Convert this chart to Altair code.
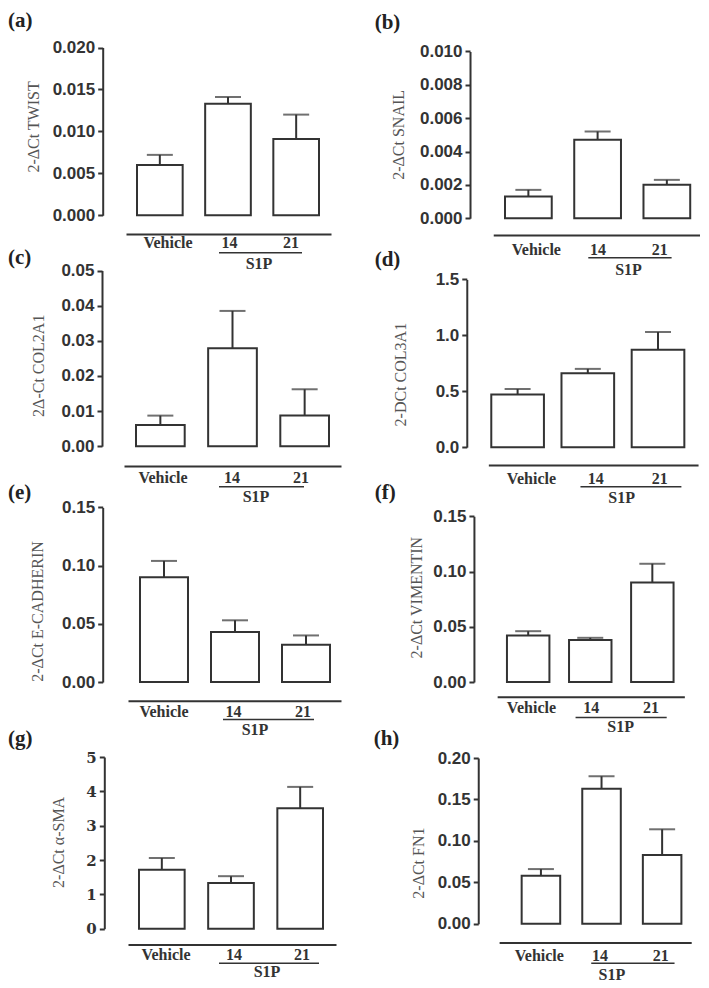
import altair as alt
import pandas as pd

# ---------------- data ----------------
groups = ["Vehicle", "14", "21"]

twist_mean = [0.0060, 0.0133, 0.0091]
twist_upper = [0.0072, 0.0141, 0.0120]
snail_mean = [0.0013, 0.0047, 0.0020]
snail_upper = [0.0017, 0.0052, 0.0023]
col2a1_mean = [0.0060, 0.0279, 0.0087]
col2a1_upper = [0.0087, 0.0385, 0.0162]
col3a1_mean = [0.47, 0.66, 0.87]
col3a1_upper = [0.52, 0.70, 1.03]
ecad_mean = [0.090, 0.043, 0.032]
ecad_upper = [0.104, 0.053, 0.040]
vim_mean = [0.042, 0.038, 0.090]
vim_upper = [0.046, 0.040, 0.107]
sma_mean = [1.72, 1.33, 3.51]
sma_upper = [2.06, 1.53, 4.13]
fn1_mean = [0.058, 0.163, 0.083]
fn1_upper = [0.066, 0.178, 0.114]

twist_ticks = [0, 0.005, 0.010, 0.015, 0.020]
snail_ticks = [0, 0.002, 0.004, 0.006, 0.008, 0.010]
col2a1_ticks = [0, 0.01, 0.02, 0.03, 0.04, 0.05]
col3a1_ticks = [0, 0.5, 1.0, 1.5]
ecad_ticks = [0, 0.05, 0.10, 0.15]
vim_ticks = [0, 0.05, 0.10, 0.15]
sma_ticks = [0, 1, 2, 3, 4, 5]
fn1_ticks = [0, 0.05, 0.10, 0.15, 0.20]

titles = ["2-ΔCt TWIST", "2-ΔCt SNAIL", "2Δ-Ct COL2A1", "2-DCt COL3A1",
          "2-ΔCt E-CADHERIN", "2-ΔCt VIMENTIN", "2-ΔCt  α-SMA", "2-ΔCt FN1"]
letters = ["(a)", "(b)", "(c)", "(d)", "(e)", "(f)", "(g)", "(h)"]
group_label = "S1P"

# ---------------- layout / style ----------------
INK = "#333333"
CELL_W, CELL_H = 346, 243
KY = 0.9868


def gx(rx, col):
    return rx - 2 if col == 0 else (rx - 354) * 0.98 + 4


def gy(ry, row):
    return (ry - 3) * KY - CELL_H * row


layout = [
    dict(col=0, row=0, axis_x=96.7, ytop=40, ybot=210, bars=(131, 313), pi=0.33, base_y=229,
         base_x=(120, 325), lab_y=238, lab_x=(162, 224, 285), ul_y=248, ul_x=(213, 296),
         s1p=(253, 259), letter=(2, 13), title=(27, 120), fmt=".3f"),
    dict(col=1, row=0, axis_x=468.3, ytop=44, ybot=213, bars=(504, 693), pi=0.325, base_y=230,
         base_x=(492, 704), lab_y=245, lab_x=(536, 601, 662), ul_y=253, ul_x=(589, 674),
         s1p=(630, 265), letter=(371, 15), title=(395, 128), fmt=".3f"),
    dict(col=0, row=1, axis_x=96, ytop=266, ybot=444, bars=(130, 323), pi=0.325, base_y=464,
         base_x=(118, 335), lab_y=476, lab_x=(157, 223, 295), ul_y=485, ul_x=(213, 298),
         s1p=(250, 496), letter=(2, 253), title=(32, 362), fmt=".2f"),
    dict(col=1, row=1, axis_x=465, ytop=275, ybot=445, bars=(490, 687), pi=0.25, base_y=463,
         base_x=(487, 701), lab_y=477, lab_x=(531, 600, 662), ul_y=485, ul_x=(581, 684),
         s1p=(623, 497), letter=(371, 255), title=(397, 371), fmt=".1f"),
    dict(col=0, row=2, axis_x=96.7, ytop=506, ybot=683, bars=(134, 324), pi=0.324, base_y=702,
         base_x=(122, 335), lab_y=713, lab_x=(158, 222, 297), ul_y=721, ul_x=(217, 308),
         s1p=(249, 732), letter=(2, 491), title=(31, 611), fmt=".2f"),
    dict(col=1, row=2, axis_x=472.3, ytop=515, ybot=683, bars=(506, 676), pi=0.316, base_y=698,
         base_x=(496, 687), lab_y=709, lab_x=(531, 592, 653), ul_y=719, ul_x=(576, 669),
         s1p=(622, 729), letter=(371, 491), title=(414, 597), fmt=".2f"),
    dict(col=0, row=3, axis_x=98.3, ytop=759, ybot=933, bars=(133, 317), pi=0.34, base_y=949,
         base_x=(122, 330), lab_y=959, lab_x=(160, 228, 296), ul_y=968, ul_x=(213, 313),
         s1p=(261, 977), letter=(2, 741), title=(52, 845), fmt="d"),
    dict(col=1, row=3, axis_x=476.7, ytop=760, ybot=928, bars=(521, 684), pi=0.364, base_y=947,
         base_x=(498, 694), lab_y=960, lab_x=(539, 604, 663), ul_y=968, ul_x=(592, 677),
         s1p=(613, 980), letter=(370, 741), title=(416, 866), fmt=".2f"),
]

series = [
    (twist_mean, twist_upper, twist_ticks),
    (snail_mean, snail_upper, snail_ticks),
    (col2a1_mean, col2a1_upper, col2a1_ticks),
    (col3a1_mean, col3a1_upper, col3a1_ticks),
    (ecad_mean, ecad_upper, ecad_ticks),
    (vim_mean, vim_upper, vim_ticks),
    (sma_mean, sma_upper, sma_ticks),
    (fn1_mean, fn1_upper, fn1_ticks),
]


def make_panel(i):
    mean, upper, ticks = series[i]
    L = layout[i]
    col, row = L["col"], L["row"]
    df = pd.DataFrame({"group": groups, "mean": mean, "upper": upper})
    one = pd.DataFrame({"k": [0]})

    ax = gx(L["axis_x"], col)
    sans_lab = i != 6
    yscale = alt.Scale(domain=[ticks[0], ticks[-1]],
                       range=[gy(L["ybot"], row), gy(L["ytop"], row)],
                       nice=False, zero=True)
    yaxis = alt.Axis(values=ticks, format=L["fmt"], title=titles[i], grid=False,
                     offset=-ax, domainColor=INK, domainWidth=2, tickColor=INK,
                     tickWidth=2, tickSize=5, labelPadding=3,
                     labelFont="Liberation Sans" if sans_lab else "DejaVu Serif",
                     labelFontSize=17 if sans_lab else 15, labelFontWeight="bold",
                     labelColor=INK, labelOverlap=False,
                     titleFont="Liberation Serif", titleFontSize=16,
                     titleFontWeight="normal", titleColor="#555555", titleAngle=270,
                     titleAlign="center", titleBaseline="middle",
                     titleX=gx(L["title"][0], col) - ax, titleY=gy(L["title"][1], row))

    def yenc(field):
        return alt.Y(f"{field}:Q", scale=yscale, axis=yaxis)

    bl, br = gx(L["bars"][0], col), gx(L["bars"][1], col)
    xA = alt.X("group:N", scale=alt.Scale(type="band", domain=groups, range=[bl, br],
                                          paddingInner=L["pi"], paddingOuter=0),
               axis=None)

    bars = alt.Chart(df).mark_bar(fill="white", stroke=INK, strokeWidth=2).encode(
        x=xA, y=yenc("mean"))
    err = alt.Chart(df).mark_rule(color=INK, strokeWidth=2).encode(
        x=xA, y=yenc("mean"), y2=alt.Y2("upper"))
    cap = alt.Chart(df).mark_tick(color=INK, thickness=2, size=26).encode(
        x=xA, y=yenc("upper"))

    # category axis (its domain line is the long baseline)
    Lx, Rx = gx(L["base_x"][0], col), gx(L["base_x"][1], col)
    c = [gx(v, col) for v in L["lab_x"]]
    step = (c[2] - c[0]) / 2
    leftover = max(0.0, (Rx - Lx) - 3 * step)
    lead = c[0] - step / 2 - Lx
    po = leftover / (2 * step) if step > 0 else 0
    al = min(1.0, max(0.0, lead / leftover)) if leftover > 0 else 0.5
    xB = alt.X("group:N",
               scale=alt.Scale(type="band", domain=groups, range=[Lx, Rx], paddingInner=0,
                               paddingOuter=po, align=al),
               axis=alt.Axis(orient="bottom", offset=gy(L["base_y"], row) - CELL_H,
                             domainColor=INK, domainWidth=2, ticks=False, tickSize=0,
                             labelPadding=gy(L["lab_y"], row) - gy(L["base_y"], row),
                             labelBaseline="middle", labelFont="Liberation Serif",
                             labelFontSize=16, labelFontWeight="bold", labelColor=INK,
                             labelAngle=0, title=None, grid=False))
    cat_axis = alt.Chart(df).mark_point(opacity=0).encode(x=xB, y=alt.value(0))

    underline = alt.Chart(one).mark_rule(color=INK, strokeWidth=1.5).encode(
        x=alt.value(gx(L["ul_x"][0], col)), x2=alt.value(gx(L["ul_x"][1], col)),
        y=alt.value(gy(L["ul_y"], row)))
    s1p = alt.Chart(one).mark_text(font="Liberation Serif", fontSize=16, fontWeight="bold",
                                   color=INK, align="center", baseline="middle").encode(
        x=alt.value(gx(L["s1p"][0], col)), y=alt.value(gy(L["s1p"][1], row)),
        text=alt.value(group_label))
    letter = alt.Chart(one).mark_text(font="Liberation Serif", fontSize=21, fontWeight="bold",
                                      color="#222222", align="left", baseline="middle").encode(
        x=alt.value(gx(L["letter"][0], col)), y=alt.value(gy(L["letter"][1], row)),
        text=alt.value(letters[i]))

    return alt.layer(bars, err, cap, cat_axis, underline, s1p, letter).resolve_scale(
        x="independent").properties(width=CELL_W, height=CELL_H)


panels = [make_panel(i) for i in range(8)]

chart = alt.concat(*panels, columns=2, spacing=0, bounds="flush").properties(
    padding=0, background="white").configure_view(stroke=None)

chart.save("out.html", embed_options={"renderer": "svg", "actions": False})
